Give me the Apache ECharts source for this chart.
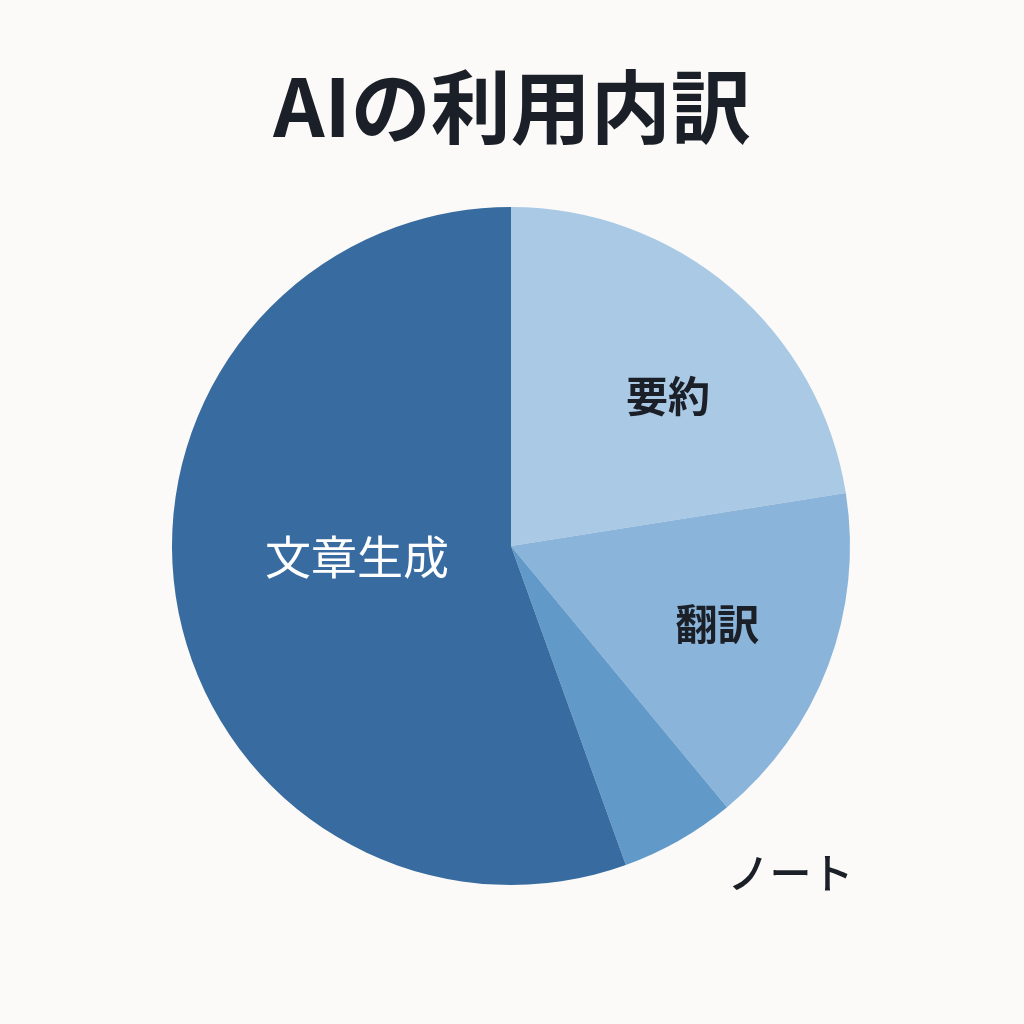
<!DOCTYPE html>
<html><head><meta charset="utf-8">
<script src="https://cdn.jsdelivr.net/npm/echarts@6/dist/echarts.min.js"></script>
<style>html,body{margin:0;padding:0;background:#fbfaf8;}#c{width:1024px;height:1024px;}</style>
</head><body><div id="c"></div>
<script>
var title = 'AIの利用内訳';
var categories = ['要約', '翻訳', 'ノート', '文章生成'];
var values = [22.5, 16.5, 5.5, 55.5];
var colors = ['#a9c9e5', '#8bb4da', '#6199c9', '#386b9f'];
var labelColors = ['#1b1f27', '#1b1f27', '#1b1f27', '#ffffff'];
var labelWeights = ['bold', 'bold', 500, 'normal'];
var labelSizes = [42, 42, 42, 46];
var labelOffsets = [[45, -19], [45, 17], [194, 177], [16, -19]];

var chart = echarts.init(document.getElementById('c'));
var data = categories.map(function (n, i) {
  return {
    name: n, value: values[i],
    itemStyle: { color: colors[i] },
    label: { color: labelColors[i], fontWeight: labelWeights[i], fontSize: labelSizes[i], offset: labelOffsets[i] }
  };
});
chart.setOption({
  backgroundColor: '#fbfaf8',
  title: {
    text: title, left: 'center', top: 62,
    textStyle: { fontSize: 80, fontWeight: 'bold', color: '#1b1f27', fontFamily: 'Noto Sans CJK JP' }
  },
  series: [{
    type: 'pie', center: [511, 546], radius: 339, startAngle: 90, clockwise: true,
    animation: false,
    label: { show: true, position: 'inside', fontFamily: 'Noto Sans CJK JP', formatter: '{b}' },
    labelLine: { show: false },
    itemStyle: { borderWidth: 0 },
    emphasis: { disabled: true },
    data: data
  }]
});
</script></body></html>
